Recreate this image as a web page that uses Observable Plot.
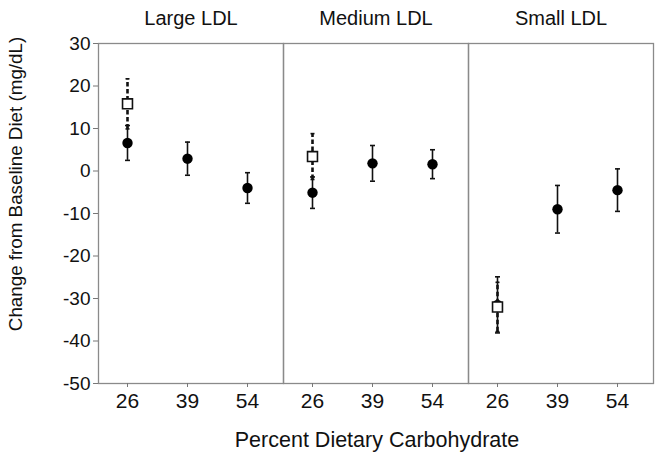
<!DOCTYPE html>
<html>
<head>
<meta charset="utf-8">
<script src="https://cdn.jsdelivr.net/npm/d3@7"></script>
<script src="https://cdn.jsdelivr.net/npm/@observablehq/plot@0.6"></script>
<style>
  html, body { margin: 0; padding: 0; background: #fff; }
  #chart { position: relative; width: 658px; height: 462px; font-family: "Liberation Sans", Arial, sans-serif; }
  #chart svg { display: block; }
</style>
</head>
<body>
<div id="chart"></div>
<script>
// ---- data ----
const panels = ["Large LDL", "Medium LDL", "Small LDL"];
const carbs = [26, 39, 54];
const yTicks = [30, 20, 10, 0, -10, -20, -30, -40, -50];

// filled circles: mean change and error at 26, 39, 54 % carbohydrate
const largeMean  = [6.6, 2.9, -4.0];
const largeErr   = [4.1, 3.9, 3.6];
const mediumMean = [-5.1, 1.8, 1.6];
const mediumErr  = [3.7, 4.2, 3.4];
const smallMean  = [-31.5, -9.0, -4.5];
const smallErr   = [6.6, 5.6, 5.0];

// open squares (26 % carbohydrate only), one per panel
const openMean = [15.8, 3.4, -32.0];
const openErr  = [5.9, 5.4, 5.8];

const xTitle = "Percent Dietary Carbohydrate";
const yTitle = "Change from Baseline Diet (mg/dL)";

// ---- tables built from the arrays ----
const closedRows = [];
[[largeMean, largeErr], [mediumMean, mediumErr], [smallMean, smallErr]].forEach(([m, e], p) => {
  carbs.forEach((c, i) => closedRows.push({panel: panels[p], carb: c, mean: m[i], lo: m[i] - e[i], hi: m[i] + e[i]}));
});
const openRows = panels.map((p, i) => ({panel: p, carb: carbs[0], mean: openMean[i], lo: openMean[i] - openErr[i], hi: openMean[i] + openErr[i]}));

// horizontal cap symbol for error bars
const capSymbol = {
  draw(context, size) {
    const r = Math.sqrt(size / Math.PI);
    context.moveTo(-r, 0);
    context.lineTo(r, 0);
  }
};

const font = "'Liberation Sans', Arial, sans-serif";

const chart = Plot.plot({
  width: 658,
  height: 462,
  marginTop: 43,
  marginBottom: 79,
  marginLeft: 97,
  marginRight: 5,
  style: {fontFamily: font, color: "#111", background: "#fff"},
  fx: {domain: panels, padding: 0, label: null},
  x: {type: "point", domain: carbs, padding: 0.54, align: 0.44, label: null},
  y: {domain: [-50, 30], label: null},
  marks: [
    Plot.frame({stroke: "#8a8a8a", strokeWidth: 1.3}),
    Plot.axisFx({anchor: "top", tickSize: 0, tickPadding: 15, dy: -4, fontSize: 20, label: null, fill: "#111"}),
    Plot.axisX({anchor: "bottom", tickSize: 4, tickPadding: 6, fontSize: 21, label: null, stroke: "#777", fill: "#111"}),
    Plot.axisY({anchor: "left", ticks: yTicks, tickFormat: d => String(d), tickSize: 5, tickPadding: 3, fontSize: 19, label: null, stroke: "#777", fill: "#111"}),
    // filled-circle error bars
    Plot.ruleX(closedRows, {fx: "panel", x: "carb", y1: "lo", y2: "hi", stroke: "#111", strokeWidth: 1.6}),
    Plot.dot(closedRows, {fx: "panel", x: "carb", y: "lo", symbol: capSymbol, r: 2.5, fill: "none", stroke: "#111", strokeWidth: 1.6}),
    Plot.dot(closedRows, {fx: "panel", x: "carb", y: "hi", symbol: capSymbol, r: 2.5, fill: "none", stroke: "#111", strokeWidth: 1.6}),
    Plot.dot(closedRows, {fx: "panel", x: "carb", y: "mean", r: 5.2, fill: "#000", stroke: "none"}),
    // open-square error bars (dashed)
    Plot.ruleX(openRows, {fx: "panel", x: "carb", y1: "lo", y2: "hi", stroke: "#111", strokeWidth: 2.6, strokeDasharray: "4.5,2.5"}),
    Plot.dot(openRows, {fx: "panel", x: "carb", y: "lo", symbol: capSymbol, r: 2, fill: "none", stroke: "#111", strokeWidth: 1.6}),
    Plot.dot(openRows, {fx: "panel", x: "carb", y: "hi", symbol: capSymbol, r: 2, fill: "none", stroke: "#111", strokeWidth: 1.6}),
    Plot.dot(openRows, {fx: "panel", x: "carb", y: "mean", symbol: "square", r: 5.6, fill: "#fff", stroke: "#111", strokeWidth: 1.6})
  ]
});

document.getElementById("chart").appendChild(chart);

// axis titles
const svg = d3.select(chart);
svg.append("text")
  .attr("x", 377).attr("y", 447)
  .attr("text-anchor", "middle")
  .attr("font-family", font).attr("font-size", 21.5).attr("fill", "#111")
  .text(xTitle);
svg.append("text")
  .attr("transform", "translate(22,184) rotate(-90)")
  .attr("text-anchor", "middle")
  .attr("font-family", font).attr("font-size", 18.8).attr("fill", "#111")
  .text(yTitle);
</script>
</body>
</html>
